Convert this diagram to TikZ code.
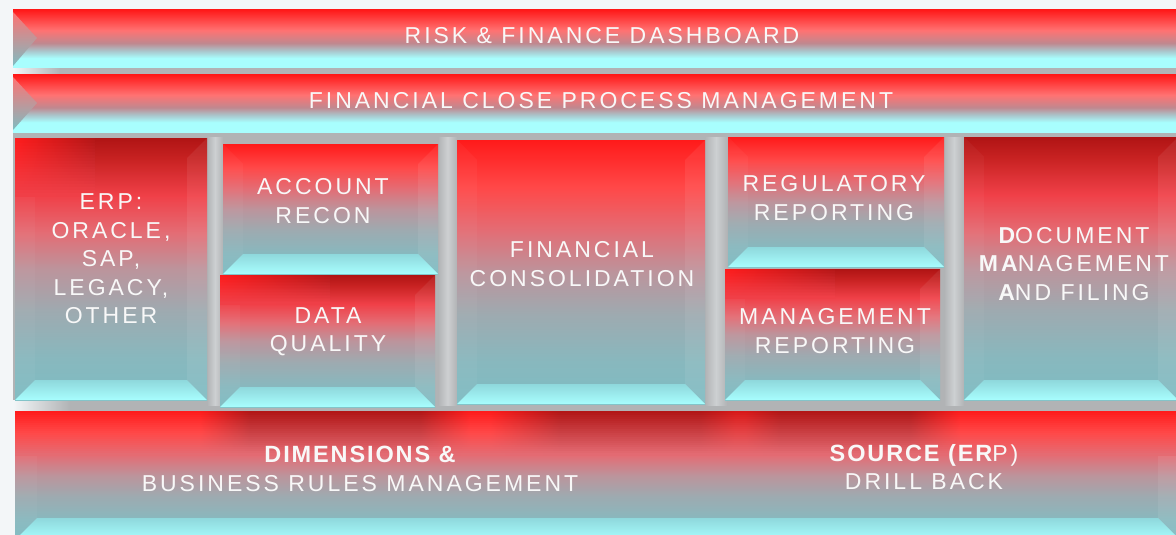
\documentclass[tikz,border=0pt]{standalone}
\usepackage{fontspec}
\newfontfamily\lblfam{Liberation Sans}[LetterSpace=13]
\newfontfamily\lbbfam{Liberation Sans}[LetterSpace=8]
\definecolor{redT}{HTML}{FF1A1A}
\definecolor{redD}{HTML}{B01414}
\definecolor{redM}{HTML}{C82222}
\definecolor{redL}{HTML}{FF4848}
\definecolor{redK}{HTML}{F04048}
\definecolor{pinkC}{HTML}{E46C74}
\definecolor{pinkB}{HTML}{FF7272}
\definecolor{mauveC}{HTML}{BC949C}
\definecolor{grayC}{HTML}{9EAAB0}
\definecolor{tealM}{HTML}{88B8BE}
\definecolor{tealC}{HTML}{7EBCC2}
\definecolor{cyM}{HTML}{8FD8DC}
\definecolor{cyB}{HTML}{A8FEFE}
\definecolor{banG}{HTML}{AAC4CA}
\definecolor{banM}{HTML}{C0888F}
\definecolor{bgG}{HTML}{B1B3B5}
\definecolor{bgL}{HTML}{CDD0D2}
\definecolor{bgW}{HTML}{F3F6F8}
\definecolor{txtW}{HTML}{F8F8F8}
\colorlet{bB}{redT}
\colorlet{bD}{redD}
\colorlet{gB}{redD}
\colorlet{gL}{redT}
\pgfdeclareverticalshading{boxsh}{100bp}{color(0bp)=(tealC); color(25bp)=(tealC); color(33bp)=(tealM); color(42bp)=(grayC); color(50bp)=(mauveC); color(58bp)=(pinkC); color(66bp)=(redL); color(75bp)=(redT); color(100bp)=(redT)}
\pgfdeclareverticalshading{boxdk}{100bp}{color(0bp)=(tealC); color(25bp)=(tealC); color(33bp)=(tealM); color(42bp)=(grayC); color(50bp)=(mauveC); color(57bp)=(pinkC); color(64bp)=(redK); color(71bp)=(redM); color(75bp)=(redD); color(100bp)=(redD)}
\pgfdeclareverticalshading{bansh}{100bp}{color(0bp)=(cyB); color(25bp)=(cyB); color(33.5bp)=(cyB); color(40bp)=(banG); color(46.5bp)=(banM); color(57.5bp)=(pinkB); color(75bp)=(redT); color(100bp)=(redT)}
\pgfdeclarehorizontalshading[bB,bD]{bandsh}{100bp}{color(0bp)=(bB); color(32.94bp)=(bB); color(35.09bp)=(bD); color(42.38bp)=(bD); color(44.53bp)=(bB); color(45.39bp)=(bB); color(48.39bp)=(bD); color(54.40bp)=(bD); color(55.90bp)=(bD!50!bB); color(56.33bp)=(bD!50!bB); color(57.83bp)=(bD); color(63.41bp)=(bD); color(65.56bp)=(bB); color(100bp)=(bB)}
% #1 shading, #2 x1, #3 y1, #4 x2, #5 y2, #6 bevel
\newcommand\bevbox[6]{%
  \shade[shading=#1] (#2,#3) rectangle (#4,#5);
  \shade[top color=cyM, bottom color=cyB] (#2,#5) -- (#2+#6,#5-#6) -- (#4-#6,#5-#6) -- (#4,#5) -- cycle;
  \fill[white, opacity=.035] (#2,#3) -- (#2+#6,#3+#6) -- (#2+#6,#5-#6) -- (#2,#5) -- cycle;
  \fill[white, opacity=.07] (#4,#3) -- (#4-#6,#3+#6) -- (#4-#6,#5-#6) -- (#4,#5) -- cycle;
}
% bright red glow at the top left of a dark box: #1 x1, #2 y1, #3 width, #4 height
\newcommand\glowTL[4]{%
  \foreach \i in {0,...,19}{%
    \pgfmathsetmacro\ya{#2+\i*#4/20}%
    \pgfmathtruncatemacro\p{100-100*(\i+0.5)/20}%
    \colorlet{gB}{redD!\p!redK}%
    \colorlet{gL}{redT!\p!redK}%
    \shade[left color=gL, right color=gB] (#1,\ya) rectangle (#1+#3,\ya+#4/20+0.4);
  }%
}
\begin{document}
\begin{tikzpicture}[x=1pt,y=-1pt,
  lbl/.style={text=txtW, font=\lblfam\fontsize{23}{28.5}\selectfont, align=center, inner sep=0pt},
  gapv/.style={left color=bgG, right color=bgG, middle color=bgL}]
\useasboundingbox (0,0) rectangle (1176,535);
% background
\fill[bgW] (0,0) rectangle (1176,535);
\fill[bgG] (13,68) rectangle (1176,411);
\shade[gapv] (207,137) rectangle (223,405);
\shade[gapv] (438,137) rectangle (457,405);
\shade[gapv] (705,137) rectangle (727,405);
\shade[gapv] (944,137) rectangle (964,405);
\shade[left color=bgW, right color=bgG] (13,68) rectangle (60,75);
\shade[left color=bgW, right color=bgG] (13,400) rectangle (70,411);
% banners
\shade[shading=bansh] (13,10) rectangle (1180,68);
\shade[top color=pinkB, bottom color=tealC] (13,12) -- (37,38) -- (13,66) -- cycle;
\shade[shading=bansh] (13,75) rectangle (1180,132);
\shade[top color=pinkB, bottom color=tealC] (13,77) -- (37,103) -- (13,130) -- cycle;
% boxes
\bevbox{boxdk}{15}{138}{207}{400}{20}
\glowTL{15}{138}{80}{58}
\bevbox{boxsh}{223}{144}{438}{274}{20}
\bevbox{boxdk}{220}{275}{435}{407}{20}
\glowTL{220}{275}{110}{29}
\bevbox{boxsh}{457}{140}{705}{404}{20}
\bevbox{boxsh}{728}{137}{944}{267}{20}
\bevbox{boxdk}{725}{269}{940}{400}{20}
\glowTL{725}{269}{110}{29}
\bevbox{boxdk}{964}{137}{1178}{400}{20}
% bottom bar
\bevbox{boxsh}{15}{411}{1180}{540}{22}
\foreach \i in {0,...,21}{%
  \pgfmathsetmacro\ya{411+2*\i}%
  \pgfmathtruncatemacro\q{max(0,100-100*(2*\i+1)/44)}%
  \pgfmathtruncatemacro\pa{max(0,100-100*(2*\i+1)/22)}%
  \pgfmathtruncatemacro\pb{max(0,100-100*(2*\i+1-22)/22)}%
  \ifnum\i<11 \colorlet{bB}{redT!\pa!redL}\else\colorlet{bB}{redL!\pb!pinkC}\fi
  \colorlet{bD}{redD!\q!pinkC}%
  \shade[shading=bandsh] (15,\ya) rectangle (1180,\ya+2.4);
}
% labels
\node[lbl] (risk) at (602,36) {RISK \& FINANCE DASHBOARD};
\node[lbl] (close) at (601,101) {FINANCIAL CLOSE PROCESS MANAGEMENT};
\node[lbl] (erp) at (111,259) {ERP:\\ORACLE,\\SAP,\\LEGACY,\\OTHER};
\node[lbl] (recon) at (323,201) {ACCOUNT\\RECON};
\node[lbl] (dq) at (328,332) {DATA\\QUALITY};
\node[lbl] (cons) at (582,264) {FINANCIAL\\CONSOLIDATION};
\node[lbl] (reg) at (834,198) {REGULATORY\\REPORTING};
\node[lbl] (mgmt) at (835,331) {MANAGEMENT\\REPORTING};
\node[lbl] (doc) at (1074,264) {{\bfseries D}OCUMENT\\{\bfseries MA}NAGEMENT\\{\bfseries A}ND FILING};
\node[lbl] (dims) at (360,469) {{\lbbfam\bfseries\fontsize{23.5}{28.5}\selectfont DIMENSIONS \&}\\BUSINESS RULES MANAGEMENT};
\node[lbl] (src) at (924,467) {{\lbbfam\bfseries\fontsize{23.5}{28.5}\selectfont SOURCE (ER}P)\\DRILL BACK};
\end{tikzpicture}
\end{document}
